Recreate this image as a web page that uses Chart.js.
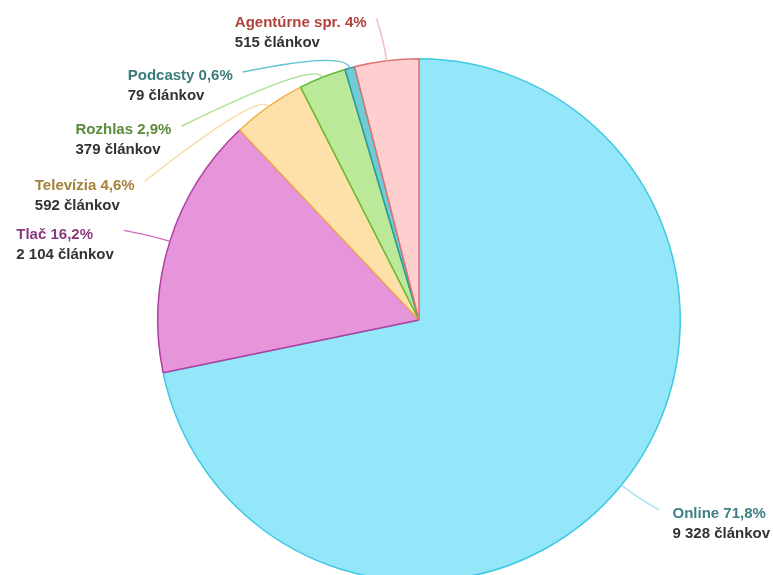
<!DOCTYPE html>
<html lang="sk">
<head>
  <meta charset="UTF-8" />
  <title>Články podľa typu média</title>
  <script src="https://cdn.jsdelivr.net/npm/chart.js"></script>
  <style>
    html, body {
      margin: 0;
      padding: 0;
      background: #fff;
      overflow: hidden;
    }
    #wrap {
      position: relative;
      width: 773px;
      height: 640px;
    }
  </style>
</head>
<body>
  <div id="wrap"><canvas id="pieChart"></canvas></div>

  <script>
    // data
    const categories = ['Online', 'Tlač', 'Televízia', 'Rozhlas', 'Podcasty', 'Agentúrne spr.'];
    const articleCounts = [9328, 2104, 592, 379, 79, 515];

    // colours
    const fillColors   = ['#93e7f9', '#e795da', '#fde0aa', '#bbe899', '#72cbd3', '#ffcfcf'];
    const borderColors = ['#3ec8e2', '#b03ea2', '#f1b44a', '#62bb32', '#2b9aa3', '#df7474'];
    const leaderColors = ['#a6e6f2', '#cc6fbf', '#f8dca6', '#ade08e', '#5ec6d0', '#f5bcbc'];
    const titleColors  = ['#3f7f86', '#8a3a7f', '#a4823a', '#5a8a3b', '#3c7b7c', '#b1423b'];

    // where each label's leader line ends, relative to the slice's outer edge point
    const labelOffsets = [[38, 25], [-46, -11], [-124, 75], [-141, 49], [-107, 4], [-10, -42]];

    const total = articleCounts.reduce((a, b) => a + b, 0);

    function fmtPct(v) {
      let p = Math.round(v / total * 1000) / 10;
      return String(p).replace('.', ',') + '%';
    }
    function fmtCount(v) {
      return String(v).replace(/\B(?=(\d{3})+(?!\d))/g, ' ') + ' článkov';
    }

    const leaderLabels = {
      id: 'leaderLabels',
      afterDatasetsDraw(chart) {
        const ctx = chart.ctx;
        const meta = chart.getDatasetMeta(0);
        ctx.save();
        meta.data.forEach((arc, i) => {
          const p = arc.getProps(['x', 'y', 'startAngle', 'endAngle', 'outerRadius'], true);
          const mid = (p.startAngle + p.endAngle) / 2;
          const cx = Math.cos(mid), cy = Math.sin(mid);
          const sx = p.x + cx * p.outerRadius;
          const sy = p.y + cy * p.outerRadius;
          const qx = p.x + cx * (p.outerRadius + 18);
          const qy = p.y + cy * (p.outerRadius + 18);
          const ex = sx + labelOffsets[i][0];
          const ey = sy + labelOffsets[i][1];

          ctx.beginPath();
          ctx.moveTo(sx, sy);
          ctx.quadraticCurveTo(qx, qy, ex, ey);
          ctx.strokeStyle = leaderColors[i];
          ctx.lineWidth = 1.5;
          ctx.stroke();

          const line1 = categories[i] + ' ' + fmtPct(articleCounts[i]);
          const line2 = fmtCount(articleCounts[i]);
          ctx.font = 'bold 15px "Liberation Sans", Arial, sans-serif';
          ctx.textBaseline = 'middle';
          ctx.textAlign = 'left';
          const w = Math.max(ctx.measureText(line1).width, ctx.measureText(line2).width);
          const onRight = labelOffsets[i][0] > 0 && cx > 0;
          const tx = onRight ? ex + 13 : ex - 10 - w;
          ctx.fillStyle = titleColors[i];
          ctx.fillText(line1, tx, ey + 4);
          ctx.fillStyle = '#333333';
          ctx.fillText(line2, tx, ey + 24);
        });
        ctx.restore();
      }
    };

    new Chart(document.getElementById('pieChart'), {
      type: 'pie',
      data: {
        labels: categories,
        datasets: [{
          data: articleCounts,
          backgroundColor: fillColors,
          borderColor: borderColors,
          borderWidth: 1.5
        }]
      },
      options: {
        responsive: true,
        maintainAspectRatio: false,
        animation: false,
        events: [],
        layout: { padding: { left: 157, right: 92, top: 58, bottom: 58 } },
        plugins: {
          legend: { display: false },
          tooltip: { enabled: false }
        }
      },
      plugins: [leaderLabels]
    });
  </script>
</body>
</html>
